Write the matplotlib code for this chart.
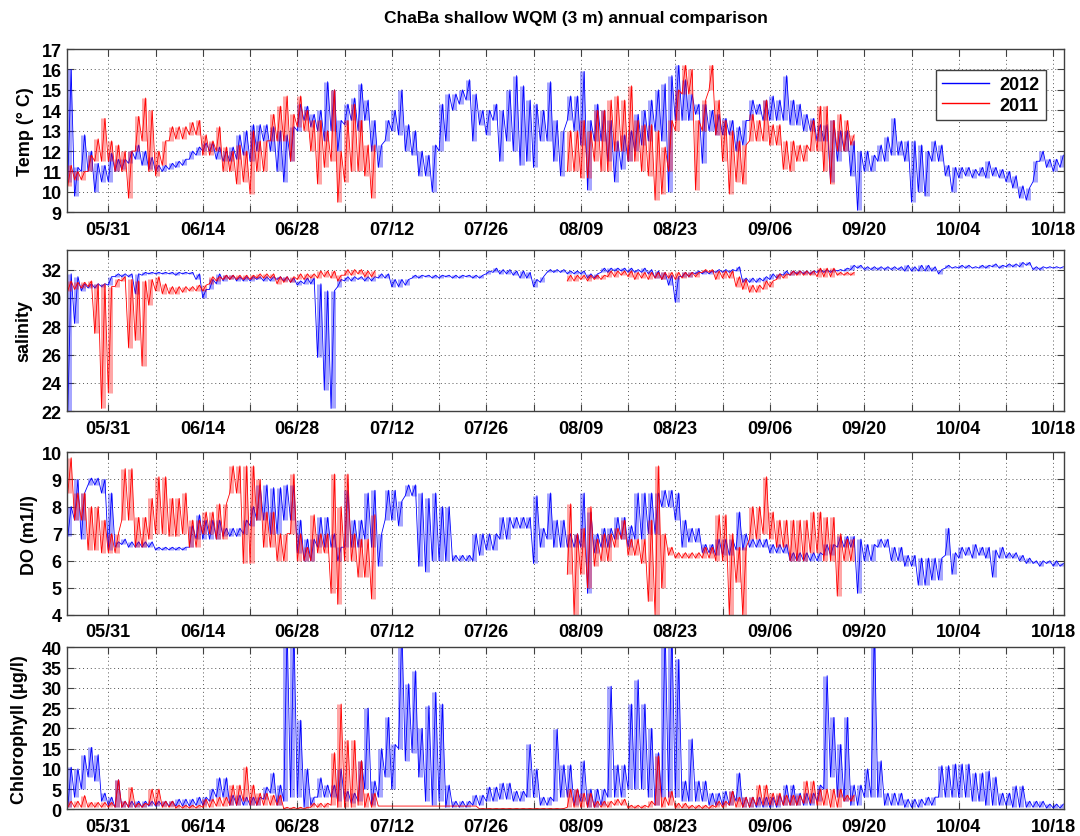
import numpy as np
import matplotlib
matplotlib.use("Agg")
import matplotlib.pyplot as plt
from matplotlib.lines import Line2D

nan = np.nan
GAP = [nan] * 28  # 2011 record gap (07/10 - 08/06)

TITLE = "ChaBa shallow WQM (3 m) annual comparison"
SERIES = ["2012", "2011"]
XTICK_DAYS = [0, 14, 28, 42, 56, 70, 84, 98, 112, 126, 140]   # days after 05/31
XTICK_LABELS = ["05/31", "06/14", "06/28", "07/12", "07/26", "08/09",
                "08/23", "09/06", "09/20", "10/04", "10/18"]
START_2012 = -6   # first day of the 2012 arrays (days after 05/31)
START_2011 = -6

# ---- Temperature (daily low / high) ----
temp12_lo = [10.5, 9.8, 11.0, 11.0, 10.0, 10.5, 10.5, 11.0, 11.1, 11.4,
             11.6, 11.3, 11.1, 11.0, 11.0, 11.1, 11.2, 11.3, 11.6, 11.8,
             12.0, 12.0, 11.6, 11.5, 11.5, 11.6, 11.8, 11.5, 12.0, 12.5,
             12.0, 11.0, 10.5, 11.5, 13.0, 13.5, 13.2, 13.0, 12.5, 13.0,
             12.0, 13.3, 13.5, 13.0, 13.5, 12.0, 11.2, 12.5, 13.0, 12.8,
             12.0, 11.8, 10.8, 10.8, 10.0, 12.0, 12.5, 14.0, 14.3, 14.5,
             12.5, 13.3, 12.8, 13.5, 11.5, 12.5, 12.0, 11.3, 11.5, 11.2,
             12.5, 12.5, 11.5, 10.8, 13.5, 13.0, 12.3, 10.1, 12.5, 12.5,
             11.5, 10.5, 11.1, 11.5, 12.0, 12.3, 12.5, 13.0, 12.5, 10.0,
             13.5, 13.5, 13.5, 13.8, 11.4, 13.0, 12.8, 12.8, 12.8, 12.0,
             12.3, 13.5, 13.8, 13.5, 13.5, 13.5, 13.5, 13.3, 13.3, 13.0,
             13.0, 12.5, 12.5, 10.5, 11.5, 12.0, 10.8, 9.1, 11.0, 11.0,
             11.5, 11.5, 11.8, 11.8, 11.5, 9.5, 10.0, 9.8, 11.5, 11.5,
             10.8, 10.0, 10.7, 10.8, 10.7, 10.8, 10.7, 10.8, 10.7, 10.5,
             10.2, 9.7, 9.6, 10.5, 11.5, 11.2, 11.0, 11.2]
temp12_hi = [16.0, 11.2, 12.8, 12.0, 11.4, 11.3, 11.9, 11.6, 11.6, 12.0,
             12.3, 12.0, 11.7, 11.3, 11.3, 11.4, 11.5, 11.6, 12.0, 12.2,
             12.4, 12.4, 12.2, 12.0, 12.2, 12.8, 13.0, 13.3, 13.3, 13.3,
             13.2, 13.0, 12.8, 13.2, 14.3, 14.2, 13.8, 14.0, 15.4, 15.0,
             13.5, 14.3, 14.6, 15.3, 14.5, 13.5, 12.3, 13.5, 14.0, 15.0,
             13.3, 13.0, 12.0, 11.8, 12.3, 14.3, 14.8, 14.8, 15.0, 15.5,
             14.8, 14.0, 14.0, 14.3, 14.0, 15.0, 15.7, 15.2, 14.5, 14.3,
             14.0, 15.4, 13.5, 13.0, 14.7, 14.7, 15.9, 13.5, 14.3, 14.0,
             13.5, 12.5, 12.8, 13.0, 13.8, 14.0, 14.5, 15.0, 15.3, 15.7,
             16.2, 15.5, 14.8, 14.3, 14.3, 14.0, 13.8, 13.6, 13.5, 13.2,
             13.5, 14.5, 14.3, 14.5, 14.7, 14.5, 15.7, 14.5, 14.3, 13.8,
             13.6, 13.3, 13.3, 13.5, 13.0, 13.0, 12.5, 12.0, 12.0, 11.8,
             12.3, 12.7, 13.6, 12.5, 12.5, 12.5, 12.3, 12.0, 12.5, 12.3,
             11.3, 11.2, 11.2, 11.2, 11.1, 11.2, 11.5, 11.2, 11.1, 11.0,
             10.8, 10.3, 10.2, 11.5, 12.0, 11.6, 11.6, 11.8]
temp11_lo = [10.3, 10.6, 10.6, 11.0, 11.5, 11.5, 11.5, 11.0, 11.0, 9.7,
             12.0, 12.5, 11.0, 10.8, 11.3, 12.5, 12.6, 12.6, 12.8, 12.8,
             11.8, 11.8, 12.0, 11.0, 11.0, 10.4, 10.5, 9.9, 11.0, 11.0,
             12.5, 12.5, 12.5, 11.5, 13.2, 13.0, 12.0, 10.4, 11.2, 11.5,
             9.5, 10.5, 11.0, 11.0, 10.8, 9.7] + GAP + [
             11.0, 11.0, 10.7, 10.7, 11.5, 11.0, 11.0, 12.0, 12.0, 11.5,
             11.5, 11.0, 10.8, 9.6, 9.9, 11.0, 13.0, 14.8, 14.8, 10.1,
             13.0, 15.0, 12.8, 11.5, 9.9, 10.5, 10.4, 12.5, 12.5, 12.5,
             12.3, 12.3, 11.1, 11.0, 11.5, 11.5, 12.0, 12.0, 11.0, 10.4,
             12.0, 12.0, 12.3]
temp11_hi = [11.3, 11.0, 11.0, 11.8, 12.6, 13.6, 12.5, 12.3, 12.0, 12.0,
             13.7, 14.6, 14.0, 12.0, 12.5, 13.2, 13.2, 13.2, 13.4, 13.5,
             12.8, 12.5, 13.2, 12.2, 12.0, 12.3, 12.0, 13.0, 12.5, 12.5,
             13.8, 14.2, 14.7, 13.8, 14.7, 14.0, 13.5, 13.5, 13.0, 15.0,
             12.0, 13.5, 14.3, 13.5, 12.3, 12.3] + GAP + [
             13.0, 13.0, 13.5, 13.0, 14.0, 14.0, 14.5, 14.7, 14.5, 15.2,
             13.5, 13.3, 13.3, 13.0, 12.2, 13.5, 15.0, 16.2, 16.0, 13.5,
             14.5, 16.2, 14.5, 13.5, 13.0, 12.5, 12.3, 13.8, 13.5, 14.5,
             13.3, 13.3, 12.5, 12.5, 12.3, 12.3, 13.5, 14.2, 14.2, 13.5,
             13.8, 13.5, 12.8]

# ---- Salinity ----
sal12_lo = [22.0, 28.2, 30.5, 30.7, 30.7, 30.8, 30.9, 31.5, 31.5, 31.5,
            30.3, 31.6, 31.7, 31.7, 31.7, 31.7, 31.6, 31.7, 31.7, 31.3,
            30.0, 30.6, 31.0, 31.2, 31.3, 31.2, 31.2, 31.2, 31.3, 31.2,
            31.2, 31.3, 31.2, 31.1, 30.9, 31.0, 31.0, 25.8, 23.5, 22.2,
            30.8, 31.2, 31.2, 31.3, 31.2, 31.2, 31.4, 31.4, 30.8, 30.8,
            30.9, 31.4, 31.4, 31.5, 31.4, 31.4, 31.5, 31.4, 31.4, 31.5,
            31.4, 31.4, 31.7, 31.8, 31.7, 31.7, 31.6, 31.4, 31.4, 30.8,
            31.1, 31.8, 31.8, 31.8, 31.7, 31.7, 31.7, 31.4, 31.4, 31.8,
            31.8, 31.9, 31.9, 31.8, 31.8, 31.8, 31.7, 31.4, 31.3, 30.9,
            29.7, 31.5, 31.5, 31.7, 31.7, 31.7, 31.8, 31.8, 31.8, 31.9,
            31.1, 31.1, 31.1, 31.2, 31.3, 31.4, 31.6, 31.6, 31.7, 31.7,
            31.7, 31.8, 31.8, 31.8, 31.9, 31.9, 32.0, 32.1, 32.0, 32.0,
            32.0, 32.0, 32.0, 32.0, 31.9, 31.9, 31.9, 31.9, 31.9, 31.7,
            32.1, 32.1, 32.1, 32.1, 32.1, 32.1, 32.1, 32.2, 32.1, 32.2,
            32.2, 32.2, 32.3, 32.0, 32.0, 32.1, 32.1, 32.1]
sal12_hi = [31.7, 31.5, 31.0, 31.0, 31.0, 31.0, 31.5, 31.7, 31.7, 31.7,
            31.7, 31.8, 31.8, 31.8, 31.8, 31.8, 31.8, 31.8, 31.8, 31.7,
            30.6, 31.3, 31.7, 31.6, 31.6, 31.5, 31.5, 31.5, 31.5, 31.5,
            31.5, 31.5, 31.5, 31.4, 31.2, 31.4, 31.4, 31.0, 30.5, 30.5,
            31.3, 31.5, 31.5, 31.5, 31.5, 31.5, 31.7, 31.7, 31.3, 31.3,
            31.3, 31.6, 31.6, 31.6, 31.6, 31.6, 31.6, 31.6, 31.6, 31.6,
            31.6, 31.6, 31.9, 32.1, 32.0, 32.0, 31.9, 31.9, 31.8, 31.3,
            31.5, 32.0, 32.0, 32.0, 31.9, 31.9, 31.9, 31.7, 31.7, 32.1,
            32.1, 32.1, 32.1, 32.1, 32.0, 32.1, 32.0, 31.9, 31.8, 31.6,
            31.5, 31.8, 31.8, 31.9, 31.9, 31.9, 32.0, 32.0, 32.0, 32.2,
            31.4, 31.4, 31.4, 31.5, 31.7, 31.7, 31.9, 31.9, 31.9, 31.9,
            31.9, 32.0, 32.0, 32.0, 32.0, 32.1, 32.3, 32.3, 32.2, 32.2,
            32.2, 32.2, 32.2, 32.2, 32.3, 32.2, 32.3, 32.3, 32.2, 32.0,
            32.3, 32.2, 32.3, 32.3, 32.2, 32.3, 32.3, 32.4, 32.3, 32.4,
            32.4, 32.5, 32.5, 32.2, 32.2, 32.2, 32.2, 32.2]
sal11_lo = [30.5, 30.6, 30.7, 30.8, 27.5, 22.2, 23.3, 30.8, 31.2, 26.5,
            27.0, 25.2, 29.5, 30.5, 30.3, 30.3, 30.3, 30.4, 30.5, 30.5,
            30.5, 31.0, 31.2, 31.3, 31.3, 31.3, 31.3, 31.3, 31.4, 31.4,
            31.4, 31.0, 31.1, 31.1, 31.3, 31.3, 31.4, 31.4, 31.5, 31.4,
            31.2, 31.6, 31.6, 31.7, 31.5, 31.5] + GAP + [
            31.2, 31.2, 31.3, 31.2, 31.3, 31.3, 31.5, 31.5, 31.6, 31.5,
            31.3, 31.4, 31.3, 31.4, 31.3, 31.4, 31.3, 31.4, 31.5, 31.5,
            31.8, 31.8, 31.3, 31.4, 31.4, 30.8, 30.6, 30.4, 30.4, 30.6,
            30.8, 31.3, 31.4, 31.6, 31.6, 31.6, 31.6, 31.5, 31.5, 31.5,
            31.6, 31.6, 31.6]
sal11_hi = [31.2, 31.1, 31.1, 31.2, 31.0, 31.0, 30.8, 31.3, 31.5, 31.3,
            31.2, 31.2, 31.3, 31.5, 31.0, 30.8, 30.8, 30.8, 30.8, 30.9,
            30.9, 31.5, 31.5, 31.6, 31.6, 31.6, 31.6, 31.6, 31.7, 31.7,
            31.7, 31.5, 31.5, 31.5, 31.7, 31.7, 31.7, 31.9, 31.9, 31.9,
            31.6, 32.0, 32.0, 32.0, 31.9, 31.9] + GAP + [
            31.6, 31.6, 31.6, 31.6, 31.6, 31.6, 31.9, 31.9, 31.9, 31.9,
            31.8, 31.8, 31.8, 31.8, 31.8, 31.8, 31.8, 31.8, 31.8, 31.8,
            32.0, 32.0, 31.9, 31.9, 31.9, 31.5, 31.3, 30.9, 30.9, 31.2,
            31.2, 31.7, 31.7, 31.9, 31.9, 31.9, 31.9, 32.1, 32.1, 32.1,
            31.8, 31.8, 31.8]

# ---- Dissolved oxygen ----
do12_lo = [6.9, 7.5, 6.8, 8.8, 8.8, 8.5, 6.4, 6.5, 6.6, 6.5,
           6.5, 6.5, 6.5, 6.4, 6.4, 6.4, 6.4, 6.4, 6.5, 6.8,
           6.8, 6.8, 6.8, 6.9, 6.9, 6.9, 7.0, 7.3, 7.5, 7.5,
           7.0, 7.0, 7.5, 7.5, 6.3, 6.0, 6.0, 6.5, 6.5, 6.5,
           6.0, 6.5, 6.5, 6.5, 6.8, 6.5, 5.8, 7.5, 7.5, 7.3,
           8.4, 8.4, 5.8, 5.6, 6.0, 6.0, 6.0, 6.0, 6.0, 6.0,
           6.0, 6.2, 6.4, 6.4, 6.8, 6.8, 7.2, 7.2, 7.2, 5.9,
           6.5, 6.8, 6.5, 6.5, 6.5, 6.5, 6.5, 4.8, 6.3, 6.5,
           6.5, 6.8, 6.8, 6.5, 6.8, 6.8, 7.0, 7.0, 8.0, 8.0,
           7.5, 6.5, 6.7, 6.7, 6.3, 6.3, 6.2, 6.2, 6.2, 6.4,
           6.4, 6.5, 6.5, 6.5, 6.3, 6.3, 6.3, 6.0, 6.0, 6.0,
           6.0, 6.0, 6.2, 6.2, 6.5, 6.5, 6.5, 4.8, 6.0, 6.0,
           6.5, 6.5, 6.0, 6.0, 5.8, 5.8, 5.1, 5.1, 5.3, 5.3,
           6.2, 5.5, 6.1, 6.2, 6.1, 6.2, 6.1, 5.4, 6.1, 6.1,
           6.1, 6.0, 5.9, 5.9, 5.8, 5.9, 5.8, 5.8]
do12_hi = [8.0, 9.0, 8.5, 9.05, 9.05, 9.0, 8.5, 6.7, 6.8, 6.7,
           6.7, 6.7, 6.7, 6.5, 6.5, 6.5, 6.5, 6.5, 7.3, 7.7,
           7.5, 7.5, 7.5, 7.2, 7.2, 7.2, 7.5, 8.0, 8.8, 8.8,
           8.7, 8.7, 8.8, 8.8, 7.5, 6.8, 6.8, 7.6, 7.6, 7.0,
           6.5, 8.6, 7.5, 7.5, 8.5, 8.6, 7.0, 8.6, 8.6, 8.2,
           8.8, 8.8, 8.5, 8.3, 8.5, 8.0, 8.0, 6.2, 6.2, 6.2,
           7.0, 7.0, 7.0, 7.0, 7.6, 7.6, 7.6, 7.6, 7.6, 8.4,
           7.2, 8.5, 7.5, 7.5, 7.0, 7.0, 8.5, 7.8, 7.0, 7.2,
           7.2, 7.6, 7.6, 7.3, 8.5, 8.5, 8.5, 8.5, 8.6, 8.6,
           8.5, 7.5, 7.2, 7.2, 6.6, 6.6, 6.8, 6.8, 6.8, 7.8,
           7.0, 6.8, 6.8, 6.8, 6.6, 6.6, 6.6, 6.3, 6.3, 6.3,
           6.3, 6.3, 6.6, 6.6, 6.9, 6.9, 6.9, 6.8, 6.6, 6.6,
           6.8, 6.8, 6.5, 6.5, 6.2, 6.2, 6.1, 6.1, 6.1, 6.1,
           7.2, 6.3, 6.5, 6.5, 6.6, 6.5, 6.5, 6.4, 6.5, 6.3,
           6.3, 6.2, 6.1, 6.0, 6.0, 6.0, 6.0, 5.9]
do11_lo = [8.5, 7.5, 7.5, 6.4, 6.4, 6.3, 6.3, 6.3, 7.5, 7.5,
           6.5, 6.5, 6.8, 7.0, 7.0, 6.9, 6.9, 7.0, 6.5, 6.5,
           7.0, 7.0, 6.8, 6.8, 8.5, 8.5, 5.9, 5.9, 7.5, 6.5,
           6.5, 6.0, 6.0, 7.0, 6.0, 6.0, 6.0, 6.3, 6.3, 4.8,
           4.4, 6.0, 6.0, 5.4, 5.4, 4.6] + GAP + [
           5.5, 4.0, 5.5, 5.0, 5.8, 6.0, 6.0, 6.5, 6.8, 6.2,
           6.2, 5.9, 4.5, 4.0, 5.0, 6.2, 6.1, 6.1, 6.1, 6.1,
           6.1, 6.1, 6.0, 6.0, 4.0, 5.2, 4.0, 6.8, 6.8, 7.0,
           6.8, 6.5, 6.5, 6.0, 6.0, 6.0, 6.3, 6.3, 6.0, 6.0,
           4.7, 6.0, 6.0]
do11_hi = [9.8, 8.5, 8.5, 8.0, 8.0, 7.5, 7.0, 7.0, 9.4, 9.4,
           7.6, 7.6, 8.3, 9.1, 9.1, 8.3, 8.3, 8.5, 7.5, 7.5,
           7.8, 7.8, 8.1, 8.1, 9.5, 9.5, 9.5, 9.5, 9.0, 7.8,
           7.8, 7.0, 7.0, 9.2, 7.0, 6.5, 7.7, 7.0, 7.0, 9.2,
           8.0, 9.2, 7.0, 6.8, 6.8, 7.7] + GAP + [
           8.1, 7.0, 7.2, 8.0, 6.8, 7.0, 7.0, 7.2, 7.5, 6.8,
           6.8, 6.8, 7.5, 9.5, 7.0, 6.5, 6.3, 6.3, 6.3, 6.3,
           6.5, 6.5, 7.7, 7.7, 7.0, 6.5, 6.5, 8.0, 8.0, 9.1,
           7.8, 7.5, 7.5, 7.5, 7.5, 7.5, 7.8, 7.8, 7.6, 7.6,
           7.0, 6.8, 6.8]

# ---- Chlorophyll ----
chl12_lo = [0.5, 3.0, 5.0, 8.0, 7.0, 2.0, 1.0, 0.5, 0.5, 0.5,
            0.5, 0.5, 0.8, 0.8, 0.8, 0.8, 0.8, 0.8, 0.8, 1.0,
            1.0, 2.0, 3.0, 3.0, 1.0, 1.0, 1.0, 1.0, 1.0, 2.5,
            4.0, 1.0, 2.0, 3.0, 3.0, 0.5, 1.0, 3.0, 3.0, 3.0,
            2.0, 2.0, 1.5, 2.0, 5.0, 1.0, 3.0, 8.0, 5.0, 15.0,
            12.0, 14.0, 8.0, 2.0, 1.0, 2.0, 0.5, 0.5, 0.5, 0.5,
            1.0, 1.0, 2.0, 2.0, 2.5, 2.5, 2.0, 2.0, 3.0, 3.0,
            1.0, 1.0, 2.0, 3.0, 3.0, 1.0, 2.0, 0.5, 0.5, 1.0,
            3.0, 3.0, 3.0, 5.0, 5.0, 5.0, 3.0, 1.0, 3.0, 3.0,
            3.0, 2.0, 2.0, 2.0, 2.0, 1.0, 1.0, 1.0, 1.0, 2.0,
            0.5, 0.5, 0.5, 0.5, 0.5, 0.5, 1.0, 1.0, 1.0, 1.0,
            1.0, 2.0, 5.0, 8.0, 3.0, 2.0, 1.0, 1.0, 3.0, 3.0,
            3.0, 1.0, 1.0, 1.0, 0.5, 0.5, 0.5, 1.0, 1.0, 3.0,
            3.0, 3.0, 3.0, 3.0, 2.0, 2.0, 1.0, 1.0, 1.0, 1.0,
            0.5, 0.5, 0.5, 0.5, 0.5, 0.3, 0.3, 0.3]
chl12_hi = [10.4, 10.0, 13.3, 15.3, 13.5, 4.0, 3.0, 7.3, 2.0, 2.0,
            2.0, 2.0, 2.0, 2.0, 2.0, 2.0, 2.5, 2.5, 2.5, 3.0,
            3.0, 5.0, 7.8, 7.8, 3.5, 3.5, 3.0, 3.0, 3.0, 5.5,
            9.0, 6.0, 45.0, 45.0, 22.0, 10.0, 3.0, 7.8, 6.0, 6.0,
            10.0, 4.5, 4.0, 12.0, 25.0, 7.0, 15.0, 22.7, 16.0, 45.0,
            31.0, 34.2, 20.0, 25.6, 28.9, 26.0, 6.0, 2.0, 2.0, 2.0,
            3.5, 3.5, 5.5, 5.5, 6.5, 6.5, 4.5, 4.5, 16.0, 10.0,
            3.0, 3.0, 19.8, 11.0, 11.0, 5.0, 12.0, 5.0, 5.0, 5.0,
            30.4, 11.0, 11.0, 26.0, 32.0, 26.0, 20.0, 14.0, 45.0, 45.0,
            37.0, 7.0, 17.4, 7.0, 7.0, 4.0, 4.0, 4.5, 4.5, 9.0,
            3.0, 3.0, 3.0, 3.0, 3.0, 3.5, 6.0, 6.0, 4.0, 4.0,
            4.0, 6.0, 33.0, 22.7, 16.0, 22.7, 6.0, 6.0, 10.0, 45.0,
            12.0, 4.0, 4.0, 4.0, 2.5, 2.5, 2.5, 3.0, 3.0, 10.8,
            10.8, 11.2, 11.2, 11.2, 9.0, 9.0, 9.5, 8.0, 4.0, 4.0,
            5.8, 5.8, 2.0, 2.0, 2.0, 1.3, 1.3, 1.3]
chl11_lo = [0.5, 0.5, 0.5, 0.5, 0.5, 0.5, 0.5, 0.5, 0.5, 0.5,
            0.5, 0.5, 1.0, 1.0, 0.5, 0.5, 0.3, 0.3, 0.3, 0.3,
            0.5, 0.5, 0.8, 0.8, 1.0, 1.0, 2.0, 1.0, 1.0, 1.0,
            1.0, 1.0, 0.1, 0.1, 0.1, 0.1, 0.5, 0.5, 0.5, 1.0,
            0.5, 0.5, 0.5, 1.0, 0.5, 0.5, 0.8, 0.8, 0.8, 0.8,
            0.8, 0.8, 0.8, 0.8, 0.8, 0.8, 0.8, 0.8, 0.8, 0.8,
            0.8, 0.1, 0.1, 0.1, 0.1, 0.1, 0.1, 0.1, 0.1, 0.1,
            0.1, 0.1, 0.1, 0.1, 0.5, 0.5, 0.5, 0.5, 0.5, 0.5,
            0.5, 1.0, 1.0, 0.3, 0.3, 0.3, 0.5, 1.0, 0.5, 1.0,
            0.3, 0.3, 0.2, 0.2, 0.2, 0.2, 0.5, 0.5, 1.0, 0.5,
            0.5, 0.5, 1.0, 1.0, 1.0, 1.0, 1.0, 1.0, 1.0, 1.5,
            1.5, 1.0, 1.0, 0.5, 0.5, 2.0, 2.0]
chl11_hi = [2.0, 2.0, 3.4, 1.7, 1.7, 1.7, 1.7, 7.3, 2.0, 5.4,
            1.5, 1.5, 5.0, 5.0, 2.0, 2.0, 1.0, 1.0, 1.0, 1.0,
            2.5, 2.5, 3.0, 3.0, 6.0, 6.0, 10.5, 6.0, 4.0, 4.0,
            3.5, 3.5, 0.5, 0.5, 0.5, 0.5, 1.5, 1.5, 1.5, 14.0,
            26.0, 17.0, 17.0, 12.0, 4.0, 4.0, 0.8, 0.8, 0.8, 0.8,
            0.8, 0.8, 0.8, 0.8, 0.8, 0.8, 0.8, 0.8, 0.8, 0.8,
            0.8, 0.2, 0.2, 0.2, 0.2, 0.2, 0.2, 0.2, 0.2, 0.2,
            0.2, 0.2, 0.2, 0.2, 5.0, 5.0, 4.0, 4.0, 2.0, 2.0,
            2.0, 2.5, 2.5, 1.0, 1.0, 1.0, 2.0, 13.2, 3.0, 4.5,
            1.5, 1.5, 1.0, 1.0, 1.0, 1.0, 2.0, 2.0, 4.5, 3.0,
            3.0, 3.0, 6.0, 6.0, 4.0, 4.0, 3.5, 3.5, 3.5, 7.0,
            7.0, 5.0, 5.0, 5.0, 5.0, 3.5, 3.5]

PANELS = [
    dict(s12=(temp12_lo, temp12_hi), s11=(temp11_lo, temp11_hi),
         ylabel="Temp (\u00b0 C)", ylim=(9, 17), yticks=np.arange(9, 18, 1),
         rect=(0.06176, 0.74516, 0.92361, 0.19510), labx=-0.0324),
    dict(s12=(sal12_lo, sal12_hi), s11=(sal11_lo, sal11_hi),
         ylabel="salinity", ylim=(22, 33.4), yticks=np.arange(22, 33, 2),
         rect=(0.06176, 0.50741, 0.92361, 0.19307), labx=-0.0341),
    dict(s12=(do12_lo, do12_hi), s11=(do11_lo, do11_hi),
         ylabel="DO (m1/l)", ylim=(4, 10), yticks=np.arange(4, 11, 1),
         rect=(0.06176, 0.26404, 0.92361, 0.19438), labx=-0.0289),
    dict(s12=(chl12_lo, chl12_hi), s11=(chl11_lo, chl11_hi),
         ylabel="Chlorophyll (\u03bcg/l)", ylim=(0, 40), yticks=np.arange(0, 41, 5),
         rect=(0.06176, 0.03190, 0.92361, 0.19355), labx=-0.0392),
]

BLUE = (0, 0, 1)
RED = (1, 0, 0)

plt.rcParams['font.family'] = ['Liberation Sans', 'DejaVu Sans']
plt.rcParams['font.weight'] = 'bold'
plt.rcParams['axes.labelweight'] = 'bold'


def draw_series(ax, start, lo, hi, color):
    """Daily low/high readings: a light vertical band for each day's range,
    joined by a thin line running low -> high through the day."""
    lo = np.asarray(lo, float)
    hi = np.asarray(hi, float)
    d = start + np.arange(len(lo))
    ok = ~np.isnan(lo)
    ax.vlines(d[ok] + 0.25, lo[ok], hi[ok], colors=[color], linewidth=3.6,
              alpha=0.35)
    x = np.column_stack([d, d + 0.5]).ravel()
    y = np.column_stack([lo, hi]).ravel()
    ax.plot(x, y, color=color, lw=0.6)


fig = plt.figure(figsize=(10.8, 8.37), dpi=100)
fig.text(576 / 1080, 1 - 18 / 837, TITLE, ha='center', va='center',
         fontsize=12.5, fontweight='bold')

minor_days = [d + 7 for d in XTICK_DAYS[:-1]]

for i, p in enumerate(PANELS):
    ax = fig.add_axes(p['rect'])
    draw_series(ax, START_2012, *p['s12'], BLUE)
    draw_series(ax, START_2011, *p['s11'], RED)

    ax.set_xlim(-6.16, 141.62)
    ax.set_ylim(*p['ylim'])
    ax.set_yticks(p['yticks'])
    ax.set_xticks(XTICK_DAYS)
    ax.set_xticklabels(XTICK_LABELS)
    ax.set_xticks(minor_days, minor=True)
    ax.tick_params(axis='both', which='both', direction='in', top=True,
                   right=True, length=5, width=0.8, color='#404040',
                   labelsize=13)
    ax.tick_params(axis='x', which='major', pad=6)
    ax.grid(True, which='both', linestyle=(0, (1, 3)), color='#555555',
            linewidth=0.7)
    ax.set_axisbelow(True)
    for sp in ax.spines.values():
        sp.set_color('#404040')
        sp.set_linewidth(1.0)
    ax.set_ylabel(p['ylabel'], fontsize=13, fontweight='bold')
    ax.yaxis.set_label_coords(p['labx'], 0.5)
    for lab in ax.get_xticklabels() + ax.get_yticklabels():
        lab.set_fontweight('bold')
    if i == 0:
        handles = [Line2D([], [], color=BLUE, lw=1.0),
                   Line2D([], [], color=RED, lw=1.0)]
        leg = ax.legend(handles, SERIES, loc='upper right',
                        bbox_to_anchor=(0.982, 0.873), fontsize=13,
                        frameon=True, fancybox=False, framealpha=1,
                        edgecolor='#404040', handlelength=2.6,
                        borderpad=0.35, labelspacing=0.2, handletextpad=0.6,
                        borderaxespad=0)
        leg.get_frame().set_linewidth(1.0)
        for t in leg.get_texts():
            t.set_fontweight('bold')

fig.savefig('out.png', dpi=100)
